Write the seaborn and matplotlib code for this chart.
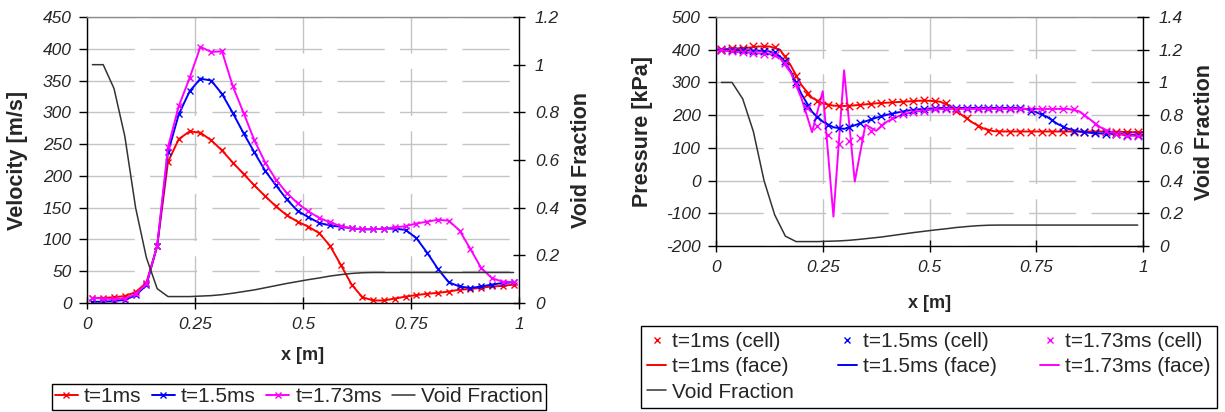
import matplotlib
matplotlib.use("Agg")
import matplotlib.pyplot as plt
import numpy as np
import pandas as pd
import seaborn as sns
from matplotlib.lines import Line2D

# cell centres (40 cells) and cell faces (41 faces) along the pipe
x_cell = np.linspace(0.0125, 0.9875, 40)
x_face = np.linspace(0.0, 1.0, 41)

# left chart: velocity [m/s] at cell centres
vel_1ms = [8, 8, 9, 11, 17, 32, 90, 222, 258, 270,
           268, 256, 240, 221, 203, 185, 168, 152, 138, 128,
           120, 110, 90, 60, 29, 9, 4, 4, 7, 10,
           12.5, 14.5, 16, 18, 21, 22, 24, 26, 27, 29]
vel_15ms = [2, 2, 3, 5, 12, 28, 90, 237, 297, 333,
            353, 350, 329, 299, 267, 237, 208, 185, 163, 145,
            135, 126, 122, 120, 117.5, 116, 116, 117, 117, 115,
            102, 79, 53.5, 32.5, 26, 23.6, 26, 29, 31.5, 32.5]
vel_173ms = [8, 7, 6, 7, 14, 30, 90, 245, 310, 354,
             403, 395, 396, 341, 299, 256, 221, 194, 173, 157,
             144, 134, 127, 121, 117.5, 116, 116, 117, 119, 121,
             125, 128, 131, 129.5, 114, 85, 55, 39, 33.5, 33]

# void fraction at cell centres (same curve on both charts)
void_frac = [1.0, 1.0, 0.9, 0.70, 0.40, 0.19, 0.06, 0.027, 0.027, 0.027,
             0.029, 0.031, 0.035, 0.041, 0.048, 0.055, 0.064, 0.073, 0.082, 0.090,
             0.098, 0.105, 0.113, 0.119, 0.124, 0.127, 0.128, 0.128, 0.128, 0.128,
             0.128, 0.128, 0.128, 0.128, 0.128, 0.128, 0.128, 0.128, 0.128, 0.128]

# right chart: pressure [kPa] at cell centres
p_cell_1ms = [402, 404, 404, 410, 412, 409, 382, 320, 265, 243,
              230, 228, 229, 231, 235, 237, 239, 241, 244, 245,
              242, 237, 212, 191, 168, 153, 150, 150, 150, 150,
              150, 150, 150, 150, 150, 150, 149, 149, 148, 148]
p_cell_15ms = [400, 400, 398, 397, 397, 392, 364, 302, 229, 193,
               169, 161, 164, 176, 187, 197, 205, 211, 216, 219,
               221, 222, 222, 222, 222, 222, 222, 222, 222, 214,
               204, 184, 163, 153, 147, 145, 143, 143, 140, 140]
p_cell_173ms = [398, 395, 392, 390, 388, 385, 360, 295, 222, 167,
                139, 111, 120, 129, 152, 171, 190, 202, 209, 214,
                218, 219, 219, 219, 219, 219, 219, 219, 219, 218,
                219, 219, 219, 219, 201, 174, 153, 143, 137, 137]

# right chart: pressure [kPa] at cell faces
p_face_1ms = [400, 402, 404, 406, 410, 410, 400, 352, 292, 253,
              236, 229, 228, 230, 233, 236, 238, 240, 242, 244,
              244, 241, 227, 201, 178, 160, 151, 150, 150, 150,
              150, 150, 150, 150, 150, 150, 150, 149, 149, 148, 148]
p_face_15ms = [400, 400, 399, 398, 397, 395, 380, 334, 265, 210,
               180, 163, 158, 169, 181, 192, 201, 208, 214, 218,
               220, 222, 222, 222, 222, 222, 222, 222, 222, 219,
               209, 195, 173, 158, 150, 146, 144, 143, 142, 140, 140]
p_face_173ms = [398, 396, 393, 391, 389, 387, 374, 330, 252, 148,
                273, -110, 337, -3, 171, 152, 180, 196, 206, 212,
                216, 218, 219, 219, 219, 219, 219, 219, 219, 219,
                219, 219, 219, 219, 212, 188, 163, 148, 140, 137, 137]

x_ticks = [0, 0.25, 0.5, 0.75, 1]
vel_ticks = [0, 50, 100, 150, 200, 250, 300, 350, 400, 450]
p_ticks = [-200, -100, 0, 100, 200, 300, 400, 500]
void_ticks_left = [0, 0.2, 0.4, 0.6, 0.8, 1.0, 1.2]
void_ticks_right = [0, 0.2, 0.4, 0.6, 0.8, 1.0, 1.2, 1.4]

RED, BLUE, MAGENTA, DARK = "#ff0000", "#0000ff", "#ff00ff", "#333333"
GRID = dict(color="#c4c4c4", linewidth=1.0, linestyle=(0, (34, 11)))
LABEL_FS = 15.5
TICK_KW = dict(fontsize=12.5, fontstyle="italic", fontfamily="Liberation Sans")

sns.set_theme(style="white")
plt.rcParams["font.family"] = "Liberation Sans"


def fmt(v):
    return f"{v:g}"


def style_pair(ax, ax2, yticks, y2ticks, ylabel, xlabel_y, ylab_x, y2lab_x):
    ax.set_xlim(0, 1)
    ax.set_ylim(yticks[0], yticks[-1])
    ax2.set_ylim(y2ticks[0], y2ticks[-1])

    ax.set_axisbelow(True)
    ax.grid(True, axis="both", **GRID)

    for name, sp in ax.spines.items():
        sp.set_visible(name in ("left", "bottom", "top"))
        sp.set_color("black")
        sp.set_linewidth(1.0)
    ax.spines["top"].set_color("#8c8c8c")
    for name, sp in ax2.spines.items():
        sp.set_visible(name == "right")
        sp.set_color("black")
        sp.set_linewidth(1.0)

    ax.tick_params(axis="y", direction="out", length=6, width=1, color="black",
                   pad=5, left=True)
    ax.tick_params(axis="x", direction="inout", length=8, width=1, color="black",
                   pad=6, bottom=True)
    ax2.tick_params(axis="y", direction="inout", length=9, width=1, color="black",
                    pad=7, right=True)

    ax.set_xticks(x_ticks, [fmt(v) for v in x_ticks], **TICK_KW)
    ax.set_yticks(yticks, [fmt(v) for v in yticks], **TICK_KW)
    ax2.set_yticks(y2ticks, [fmt(v) for v in y2ticks], **TICK_KW)

    ax.set_xlabel("x [m]", fontsize=13, fontweight="bold")
    ax.xaxis.set_label_coords(0.5, xlabel_y)
    ax.xaxis.label.set_va("center")
    ax.set_ylabel(ylabel, fontsize=LABEL_FS, fontweight="bold")
    ax.yaxis.set_label_coords(ylab_x, 0.5)
    ax.yaxis.label.set_va("center")
    ax2.set_ylabel("Void Fraction", fontsize=LABEL_FS, fontweight="bold")
    ax2.yaxis.set_label_coords(y2lab_x, 0.5)
    ax2.yaxis.label.set_va("center")


fig = plt.figure(figsize=(12.25, 4.12), dpi=100)

# ---- left chart: velocity ----
ax_v = fig.add_axes([87 / 1225, 1 - 303 / 412, 432 / 1225, 286 / 412])
ax_v2 = ax_v.twinx()
vel = pd.DataFrame({"x": x_cell, "t=1ms": vel_1ms, "t=1.5ms": vel_15ms,
                    "t=1.73ms": vel_173ms, "void": void_frac})
for col, c in [("t=1ms", RED), ("t=1.5ms", BLUE), ("t=1.73ms", MAGENTA)]:
    sns.lineplot(data=vel, x="x", y=col, ax=ax_v, color=c, lw=1.4, marker="x",
                 markersize=5, mew=1.0, mec=c, sort=False, estimator=None,
                 errorbar=None, legend=False)
sns.lineplot(data=vel, x="x", y="void", ax=ax_v2, color=DARK, lw=1.1,
             sort=False, estimator=None, errorbar=None, legend=False)
style_pair(ax_v, ax_v2, vel_ticks, void_ticks_left, "Velocity [m/s]",
           -0.185, -0.16, 1.144)

left_handles = [
    Line2D([], [], color=RED, lw=1.4, marker="x", ms=5, mew=1),
    Line2D([], [], color=BLUE, lw=1.4, marker="x", ms=5, mew=1),
    Line2D([], [], color=MAGENTA, lw=1.4, marker="x", ms=5, mew=1),
    Line2D([], [], color=DARK, lw=1.1),
]
fig.legend(left_handles, ["t=1ms", "t=1.5ms", "t=1.73ms", "Void Fraction"],
           loc="center", bbox_to_anchor=(299 / 1225, 1 - 397 / 412), ncol=4,
           fontsize=15, frameon=True, fancybox=False, edgecolor="black",
           framealpha=1, borderpad=0.15, handlelength=1.1, handletextpad=0.3,
           columnspacing=0.5, borderaxespad=0)

# ---- right chart: pressure ----
ax_p = fig.add_axes([716 / 1225, 1 - 246 / 412, 427 / 1225, 229 / 412])
ax_p2 = ax_p.twinx()
cells = pd.DataFrame({"x": x_cell, "c1": p_cell_1ms, "c15": p_cell_15ms,
                      "c173": p_cell_173ms, "void": void_frac})
faces = pd.DataFrame({"x": x_face, "f1": p_face_1ms, "f15": p_face_15ms,
                      "f173": p_face_173ms})
for col, c in [("f1", RED), ("f15", BLUE), ("f173", MAGENTA)]:
    sns.lineplot(data=faces, x="x", y=col, ax=ax_p, color=c, lw=1.4,
                 sort=False, estimator=None, errorbar=None, legend=False)
for col, c in [("c1", RED), ("c15", BLUE), ("c173", MAGENTA)]:
    sns.scatterplot(data=cells, x="x", y=col, ax=ax_p, color=c, marker="x",
                    s=30, linewidth=1.0, legend=False, zorder=3)
sns.lineplot(data=cells, x="x", y="void", ax=ax_p2, color=DARK, lw=1.1,
             sort=False, estimator=None, errorbar=None, legend=False)
style_pair(ax_p, ax_p2, p_ticks, void_ticks_right, "Pressure [kPa]",
           -0.253, -0.173, 1.145)

cell_h = lambda c: Line2D([], [], color=c, ls="none", marker="x", ms=5, mew=1)
face_h = lambda c: Line2D([], [], color=c, lw=1.4)
right_handles = [cell_h(RED), face_h(RED), face_h(DARK),
                 cell_h(BLUE), face_h(BLUE),
                 cell_h(MAGENTA), face_h(MAGENTA)]
right_labels = ["t=1ms (cell)", "t=1ms (face)", "Void Fraction",
                "t=1.5ms (cell)", "t=1.5ms (face)",
                "t=1.73ms (cell)", "t=1.73ms (face)"]
right_handles[2].set_linewidth(1.1)
fig.legend(right_handles, right_labels, loc="center",
           bbox_to_anchor=(929 / 1225, 1 - 367 / 412), ncol=3, fontsize=15,
           frameon=True, fancybox=False, edgecolor="black", framealpha=1,
           borderpad=0.3, labelspacing=0.3, handlelength=0.9,
           handletextpad=0.3, columnspacing=2.1, borderaxespad=0)

fig.savefig("out.png", dpi=100)
